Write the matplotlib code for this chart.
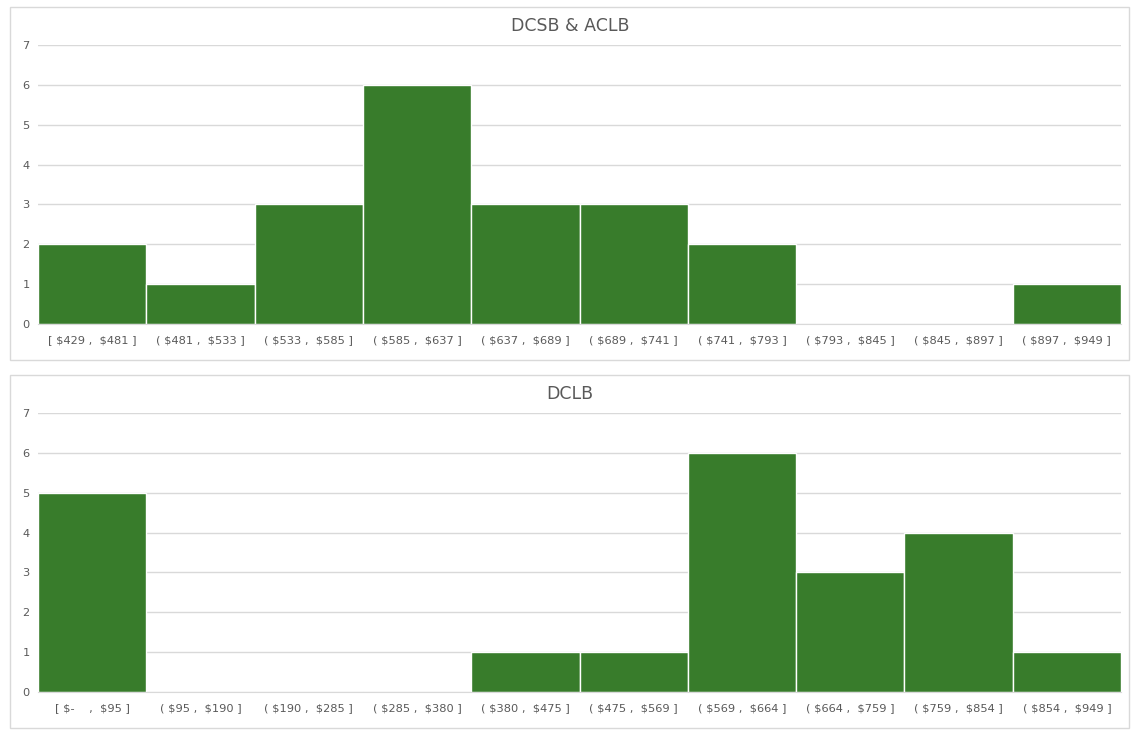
import matplotlib.pyplot as plt
from matplotlib.patches import Rectangle

plt.rcParams['text.parse_math'] = False

top_title = "DCSB & ACLB"
top_labels = ["[ $429 ,  $481 ]", "( $481 ,  $533 ]", "( $533 ,  $585 ]", "( $585 ,  $637 ]",
              "( $637 ,  $689 ]", "( $689 ,  $741 ]", "( $741 ,  $793 ]", "( $793 ,  $845 ]",
              "( $845 ,  $897 ]", "( $897 ,  $949 ]"]
top_counts = [2, 1, 3, 6, 3, 3, 2, 0, 0, 1]

bottom_title = "DCLB"
bottom_labels = ["[ $-    ,  $95 ]", "( $95 ,  $190 ]", "( $190 ,  $285 ]", "( $285 ,  $380 ]",
                 "( $380 ,  $475 ]", "( $475 ,  $569 ]", "( $569 ,  $664 ]", "( $664 ,  $759 ]",
                 "( $759 ,  $854 ]", "( $854 ,  $949 ]"]
bottom_counts = [5, 0, 0, 0, 1, 1, 6, 3, 4, 1]

W, H = 1140, 737
green = "#387c2b"
grey_text = "#595959"
grid_col = "#d9d9d9"

fig = plt.figure(figsize=(W / 100, H / 100), dpi=100)

def panel(box_top, box_bot, ax_top, ax_bot, title, labels, counts):
    # outer chart border
    fig.patches.append(Rectangle((10 / W, 1 - box_bot / H), 1119 / W, (box_bot - box_top) / H,
                                 transform=fig.transFigure, fill=False,
                                 edgecolor=grid_col, linewidth=1))
    ax = fig.add_axes([38 / W, 1 - ax_bot / H, (1121 - 38) / W, (ax_bot - ax_top) / H])
    x = range(len(counts))
    ax.bar(x, counts, width=1.0, color=green, edgecolor="white", linewidth=1)
    ax.set_xlim(-0.5, len(counts) - 0.5)
    ax.set_ylim(0, 7)
    ax.set_yticks(range(8))
    ax.set_xticks(list(x))
    ax.set_xticklabels(labels)
    ax.tick_params(axis="both", length=0, labelsize=8.2, colors=grey_text)
    ax.tick_params(axis="x", pad=8)
    ax.tick_params(axis="y", pad=6)
    ax.grid(axis="y", color=grid_col, linewidth=1)
    ax.set_axisbelow(True)
    for s in ["top", "right", "left"]:
        ax.spines[s].set_visible(False)
    ax.spines["bottom"].set_color(grid_col)
    fig.text(0.5, 1 - (box_top + 19) / H, title, ha="center", va="center",
             fontsize=12.5, color=grey_text)
    return ax

panel(7, 360, 45, 324, top_title, top_labels, top_counts)
panel(375, 728, 413, 692, bottom_title, bottom_labels, bottom_counts)

fig.savefig("out.png", dpi=100)
